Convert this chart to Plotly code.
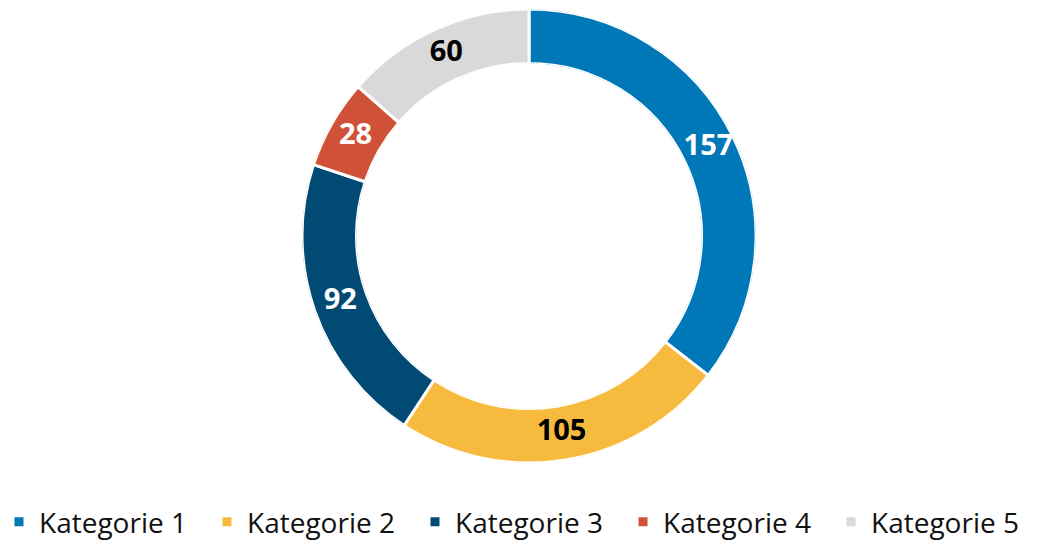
import plotly.graph_objects as go

categories = ["Kategorie 1", "Kategorie 2", "Kategorie 3", "Kategorie 4", "Kategorie 5"]
values = [157, 105, 92, 28, 60]
colors = ["#0077B6", "#F6BB3E", "#004A73", "#CF5238", "#D9D9D9"]
label_colors = ["white", "black", "white", "white", "black"]

W, H = 1037, 541
MB = 45                      # bottom margin reserved for the legend
PH = H - MB                  # plot-area height
cx, cy, R = 529, 236, 227    # donut centre / radius in pixels
HOLE = 0.76

dom = dict(x=[(cx - R) / W, (cx + R) / W], y=[(PH - cy - R) / PH, (PH - cy + R) / PH])

# angular extent of every slice (degrees clockwise from 12 o'clock), from the data
total = sum(values)
widths = [v / total * 360 for v in values]
mids = []
acc = 0
for v in values:
    mids.append((acc + v / 2) / total * 360)
    acc += v

fig = go.Figure()
for cat, v, col, th, w in zip(categories, values, colors, mids, widths):
    fig.add_trace(go.Barpolar(
        name=cat,
        r=[1], theta=[th], width=[w],
        marker=dict(color=col, line=dict(color="white", width=3)),
        hovertemplate=f"{cat}: {v}<extra></extra>",
    ))

fig.add_trace(go.Scatterpolar(
    r=[0.5] * len(values),
    theta=mids,
    mode="text",
    text=[str(v) for v in values],
    textposition="middle center",
    textfont=dict(family="Open Sans", size=29, color=label_colors, weight="bold"),
    showlegend=False,
    hoverinfo="skip",
))

fig.update_layout(
    width=W, height=H,
    margin=dict(l=0, r=0, t=0, b=MB, autoexpand=False),
    paper_bgcolor="white",
    plot_bgcolor="white",
    font=dict(family="Open Sans", color="#111111"),
    polar=dict(
        domain=dom,
        bgcolor="rgba(0,0,0,0)",
        hole=HOLE,
        bargap=0,
        radialaxis=dict(visible=False, range=[0, 1]),
        angularaxis=dict(visible=False, rotation=90, direction="clockwise"),
    ),
    showlegend=True,
    legend=dict(
        orientation="h",
        x=-1 / W, xanchor="left",
        y=(PH - 522) / PH, yanchor="middle",
        font=dict(size=28, family="Open Sans", color="#111111"),
        entrywidth=163, entrywidthmode="pixels",
        bgcolor="rgba(0,0,0,0)",
    ),
)

fig.write_html(
    "out.html",
    config={"displayModeBar": False},
    post_script="document.body.style.margin='0';document.body.style.overflow='hidden';",
)
